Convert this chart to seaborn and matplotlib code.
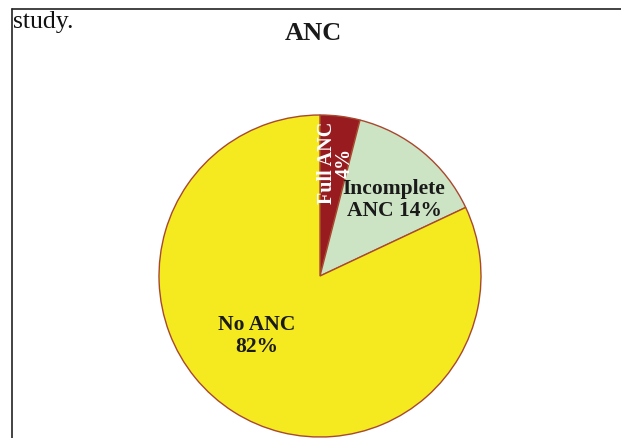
import matplotlib
matplotlib.use("Agg")
import matplotlib.pyplot as plt
import seaborn as sns
from matplotlib.lines import Line2D

# Data
categories = ["Full ANC", "Incomplete ANC", "No ANC"]
shares = [4, 14, 82]
slice_colors = ["#981c1f", "#cde4c4", "#f4ea1f"]

sns.set_theme(style="white")
plt.rcParams["font.family"] = ["Liberation Serif", "DejaVu Serif"]

fig = plt.figure(figsize=(6.21, 4.39), dpi=100)
ax = fig.add_axes([0, 0, 1, 1])

# pie in pixel coordinates (y measured from bottom)
ax.pie(shares, colors=slice_colors, startangle=90, counterclock=False,
       center=(320, 439 - 277), radius=161, frame=True,
       wedgeprops=dict(edgecolor="#a8482f", linewidth=1.0))
ax.set_xlim(0, 621)
ax.set_ylim(0, 439)
ax.axis("off")

ax.text(336, 439 - 163, "Full ANC\n4%", rotation=90, color="white",
        fontsize=14.5, fontweight="bold", ha="center", va="center",
        linespacing=0.85)
ax.text(394, 439 - 200, "Incomplete\nANC 14%", color="#1a1a1a",
        fontsize=15.5, fontweight="bold", ha="center", va="center",
        linespacing=1.15)
ax.text(257, 439 - 336, "No ANC\n82%", color="#1a1a1a",
        fontsize=15.5, fontweight="bold", ha="center", va="center",
        linespacing=1.2)

# title and the cropped caption fragment
ax.text(313, 439 - 33, "ANC", fontsize=19, fontweight="bold",
        color="#1a1a1a", ha="center", va="center")
ax.text(13, 439 - 28, "study.", fontsize=18.5, color="#111111",
        ha="left", va="baseline")

# frame lines of the cropped box
fig.add_artist(Line2D([12 / 621, 1], [1 - 10 / 439, 1 - 10 / 439],
                      transform=fig.transFigure, color="#222222", lw=1.2))
fig.add_artist(Line2D([12 / 621, 12 / 621], [0, 1 - 10 / 439],
                      transform=fig.transFigure, color="#222222", lw=1.2))

fig.savefig("out.png", dpi=100)
